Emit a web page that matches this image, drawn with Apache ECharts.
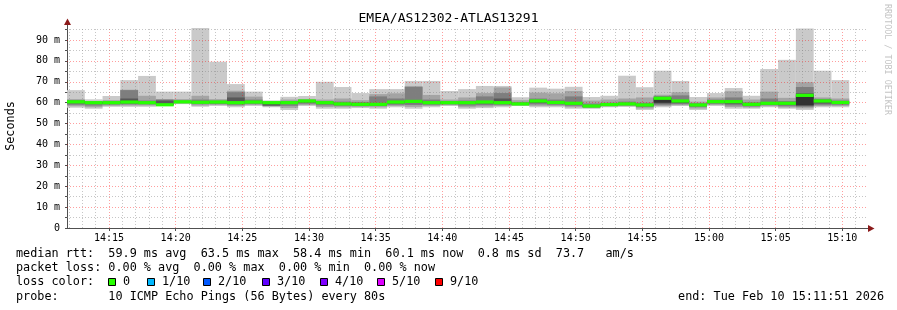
<!DOCTYPE html>
<html><head><meta charset="utf-8">
<script src="https://cdn.jsdelivr.net/npm/echarts@6/dist/echarts.min.js"></script>
<style>html,body{margin:0;padding:0;background:#fff}#c{width:897px;height:310px}</style>
</head><body><div id="c"></div>
<script>
// ---- data ----
const axisStart = '14:11:51';
const axisEnd = '15:11:51';
const stepSeconds = 80;
const stepStart = ['14:11:51','14:13:11','14:14:31','14:15:51','14:17:11','14:18:31','14:19:51','14:21:11','14:22:31','14:23:51','14:25:11','14:26:31','14:27:51','14:29:11','14:30:31','14:31:51','14:33:11','14:34:31','14:35:51','14:37:11','14:38:31','14:39:51','14:41:11','14:42:31','14:43:51','14:45:11','14:46:31','14:47:51','14:49:11','14:50:31','14:51:51','14:53:11','14:54:31','14:55:51','14:57:11','14:58:31','14:59:51','15:01:11','15:02:31','15:03:51','15:05:11','15:06:31','15:07:51','15:09:11'];
// sorted pings per step (ms), ping1 = fastest, ping10 = slowest
const ping1 = [57.6,57.1,58.0,58.0,58.0,58.4,59.3,58.0,58.4,57.8,58.4,57.8,56.5,58.4,57.1,57.1,57.4,57.1,57.8,57.1,57.8,58.4,57.1,57.4,57.8,58.4,57.8,57.8,57.1,57.1,57.8,58.0,56.5,57.8,58.4,56.5,58.4,57.1,57.1,57.8,57.1,56.5,57.8,57.8];
const ping2 = [58.3,57.8,58.5,58.6,58.6,58.6,59.6,58.6,58.9,58.4,58.9,58.2,57.5,58.9,57.9,57.8,57.9,57.8,58.4,58.0,58.4,58.8,57.8,58.1,58.4,58.6,58.5,58.4,57.8,57.4,58.2,58.3,57.2,58.4,58.8,57.2,58.9,57.9,57.7,58.3,57.7,57.3,58.4,58.4];
const ping3 = [59.0,58.6,59.1,59.2,59.2,58.8,59.9,59.3,59.4,59.0,59.4,58.5,58.5,59.5,58.7,58.5,58.4,58.4,59.0,58.9,59.0,59.2,58.6,58.8,59.0,58.9,59.2,59.0,58.5,57.7,58.5,58.7,57.9,59.0,59.3,57.9,59.4,58.7,58.2,58.8,58.3,58.0,59.0,59.0];
const ping4 = [59.7,59.4,59.5,59.7,59.6,58.9,60.1,59.8,59.8,59.6,59.9,58.6,59.4,60.1,59.4,58.9,58.8,58.8,59.6,59.8,59.5,59.6,59.4,59.6,59.5,59.1,59.9,59.6,59.1,58.0,58.8,59.0,58.5,59.6,59.8,58.4,59.9,59.5,58.6,59.2,58.9,58.5,59.6,59.5];
const ping5 = [60.1,59.7,59.8,60.0,59.8,59.0,60.3,60.0,60.1,59.8,60.1,59.6,59.8,60.5,59.8,59.2,59.0,59.0,60.0,60.3,59.8,59.8,59.8,60.0,59.8,59.3,60.4,59.9,59.4,58.2,59.0,59.2,58.7,60.0,60.3,58.7,60.2,60.0,58.9,59.5,59.4,58.8,60.3,59.8];
const ping6 = [60.4,60.0,60.0,60.3,60.0,59.0,60.4,60.2,60.3,60.0,60.3,60.0,60.0,60.8,60.0,59.4,59.2,59.2,60.3,60.6,60.0,60.0,60.0,60.3,60.0,59.4,60.8,60.1,59.7,58.4,59.1,59.4,58.9,62.1,60.8,58.9,60.5,60.5,59.2,59.7,59.7,63.5,60.8,60.1];
const ping7 = [60.8,60.3,60.3,62.0,60.4,61.0,60.7,60.5,60.6,62.5,60.6,60.3,60.3,61.0,60.3,59.8,59.6,59.8,60.8,61.0,60.4,60.3,60.3,60.8,62.0,59.7,61.2,60.4,60.2,58.8,59.4,59.8,59.3,62.5,61.2,59.2,60.8,61.0,59.5,60.2,60.1,64.5,61.2,60.5];
const ping8 = [61.2,60.5,60.7,66.0,61.0,61.5,61.0,61.5,61.0,65.0,61.5,60.5,60.8,61.3,60.8,60.5,60.3,63.0,62.0,67.5,61.5,60.8,61.0,63.0,64.6,60.3,62.0,61.5,63.0,59.6,60.0,60.5,60.0,63.2,63.5,59.8,61.5,62.5,60.2,62.0,60.8,67.5,61.8,61.0];
const ping9 = [61.7,60.8,61.2,66.2,63.3,61.7,61.7,63.3,61.7,65.7,62.9,60.7,61.5,61.8,61.5,62.0,61.2,64.1,64.5,68.0,63.7,61.5,62.5,64.6,67.3,61.2,64.8,64.5,65.6,61.0,61.5,62.0,62.5,63.8,65.0,60.5,62.5,65.5,61.5,65.3,62.3,69.8,62.5,62.0];
const ping10 = [66.0,61.6,63.2,70.8,72.8,65.3,65.3,95.7,79.6,68.9,65.3,61.1,62.8,63.2,70.0,67.5,64.6,66.5,66.5,70.4,70.4,65.6,66.5,68.0,68.0,62.6,67.2,66.7,67.6,62.7,63.3,72.9,67.4,75.3,70.4,62.7,64.6,67.0,63.3,76.1,80.5,95.5,75.3,70.8];
const medianRtt = [60.4,60.0,60.0,60.3,60.0,59.0,60.4,60.2,60.3,60.0,60.3,60.0,60.0,60.8,60.0,59.4,59.2,59.2,60.3,60.6,60.0,60.0,60.0,60.3,60.0,59.4,60.8,60.1,59.7,58.4,59.1,59.4,58.9,62.1,60.8,58.9,60.5,60.5,59.2,59.7,59.7,63.5,60.8,60.1];
const timeTicks = ['14:15','14:20','14:25','14:30','14:35','14:40','14:45','14:50','14:55','15:00','15:05','15:10'];
const yTicks = [0,10,20,30,40,50,60,70,80,90];
const yMax = 95.75;

const lossLabels = ['0','1/10','2/10','3/10','4/10','5/10','9/10'];
const lossColors = ['#26ff00','#00b8ff','#0059ff','#5e00ff','#7e00ff','#dd00ff','#ff0000'];

// ---- helpers ----
function toSec(s){const p=s.split(':').map(Number);return p[0]*3600+p[1]*60+(p[2]||0);}
function fmt(v){const h=Math.floor(v/3600),m=Math.floor((v%3600)/60);return h+':'+String(m).padStart(2,'0');}
const MONO = "'DejaVu Sans Mono', monospace";
const LEG = "11.8px 'DejaVu Sans Mono'";
const smokeColors = ['#cacaca','#a4a4a4','#7e7e7e','#585858','#323232'];
const bands = [[ping1,ping10],[ping2,ping9],[ping3,ping8],[ping4,ping7],[ping5,ping6]];

function bandSeries(lo, hi, color, z){
  return {type:'custom', z:z, silent:true, animation:false, clip:true,
    encode:{x:[0,1], y:[2,3]},
    data: stepStart.map((s,i)=>[toSec(s), toSec(s)+stepSeconds, lo[i], hi[i]]),
    renderItem:function(params, api){
      const a = api.coord([api.value(0), api.value(3)]);
      const b = api.coord([api.value(1), api.value(2)]);
      return {type:'rect', shape:{x:a[0], y:a[1], width:b[0]-a[0], height:b[1]-a[1]}, style:{fill:color}};
    }};
}

const series = bands.map((b,i)=>bandSeries(b[0], b[1], smokeColors[i], 2+i));
series.push({type:'custom', z:8, silent:true, animation:false, clip:true,
  encode:{x:[0,1], y:2},
  data: stepStart.map((s,i)=>[toSec(s), toSec(s)+stepSeconds, medianRtt[i]]),
  renderItem:function(params, api){
    const a = api.coord([api.value(0), api.value(2)]);
    const b = api.coord([api.value(1), api.value(2)]);
    return {type:'rect', shape:{x:a[0], y:a[1]-1.6, width:b[0]-a[0], height:3.2}, style:{fill:lossColors[0]}};
  }});

// grid lines (rrdtool style): minor every minute / 5 ms, major every 5 min / 10 ms
const gridMinor = 'rgba(128,128,128,0.45)';
const gridMajor = 'rgba(255,0,0,0.38)';
const gl = [];
const t0 = toSec(axisStart), t1 = toSec(axisEnd);
const majorSet = new Set(timeTicks.map(toSec));
for (let t = Math.ceil(t0/60)*60; t < t1; t += 60) {
  gl.push({xAxis:t, lineStyle:{color: majorSet.has(t)?gridMajor:gridMinor, type:[1,2], width:1}});
}
for (let v = 5; v < yMax; v += 5) {
  gl.push({yAxis:v, lineStyle:{color: (v%10===0)?gridMajor:gridMinor, type:[1,2], width:1}});
}
series.push({type:'line', data:[], z:20, silent:true, animation:false,
  markLine:{silent:true, animation:false, symbol:['none','none'], label:{show:false}, data:gl}});

// loss colour legend (boxes + labels)
const boxX = [108,147,203,262,320,377,435];
const legendGraphics = [];
lossColors.forEach((c,i)=>{
  legendGraphics.push({type:'rect', shape:{x:boxX[i]+0.5, y:278.5, width:7, height:7}, style:{fill:c, stroke:'#000', lineWidth:1}});
  legendGraphics.push({type:'text', x:boxX[i]+15, y:282, style:{text:lossLabels[i], font:LEG, fill:'#000', verticalAlign:'middle'}});
});

const chart = echarts.init(document.getElementById('c'), null, {renderer:'canvas'});

chart.setOption({
  animation:false,
  backgroundColor:'#ffffff',
  grid:{left:67, right:30, top:28, bottom:82, containLabel:false},
  xAxis:{type:'value', min:t0, max:t1,
    axisLine:{show:true, lineStyle:{color:'#505050', width:1}},
    axisTick:{show:true, customValues: timeTicks.map(toSec), length:3, lineStyle:{color:'#505050'}},
    axisLabel:{customValues: timeTicks.map(toSec), formatter:v=>fmt(v), fontFamily:MONO, fontSize:10, color:'#000', margin:5},
    splitLine:{show:false}},
  yAxis:{type:'value', min:0, max:yMax,
    axisLine:{show:true, lineStyle:{color:'#505050', width:1}},
    axisTick:{show:true, customValues:[0,5,10,15,20,25,30,35,40,45,50,55,60,65,70,75,80,85,90,95], length:2, lineStyle:{color:'#505050'}},
    axisLabel:{customValues: yTicks, formatter:v=>v===0?'0':v+' m', fontFamily:MONO, fontSize:10, color:'#000', margin:7},
    splitLine:{show:false}},
  series:series,
  graphic:[
    {type:'line', shape:{x1:67.5, y1:28, x2:67.5, y2:23}, style:{stroke:'#505050', lineWidth:1}},
    {type:'polygon', shape:{points:[[64,25],[71,25],[67.5,18.5]]}, style:{fill:'#8b1a1a'}},
    {type:'line', shape:{x1:867, y1:228.5, x2:870, y2:228.5}, style:{stroke:'#505050', lineWidth:1}},
    {type:'polygon', shape:{points:[[868,225],[868,232],[874.5,228.5]]}, style:{fill:'#8b1a1a'}},
    {type:'text', left:'center', top:12, style:{text:'EMEA/AS12302-ATLAS13291', font:"13px 'DejaVu Sans Mono'", fill:'#000'}},
    {type:'text', x:11, y:126, rotation:Math.PI/2, style:{text:'Seconds', font:LEG, fill:'#000', align:'center', verticalAlign:'middle'}},
    {type:'text', x:887, y:4, rotation:-Math.PI/2, style:{text:'RRDTOOL / TOBI OETIKER', font:"8.4px 'DejaVu Sans Mono'", fill:'#c4c4c4', align:'left', verticalAlign:'middle'}},
    {type:'text', x:16, y:254, style:{text:'median rtt:  59.9 ms avg  63.5 ms max  58.4 ms min  60.1 ms now  0.8 ms sd  73.7   am/s', font:LEG, fill:'#000', verticalAlign:'middle'}},
    {type:'text', x:16, y:268, style:{text:'packet loss: 0.00 % avg  0.00 % max  0.00 % min  0.00 % now', font:LEG, fill:'#000', verticalAlign:'middle'}},
    {type:'text', x:16, y:282, style:{text:'loss color:', font:LEG, fill:'#000', verticalAlign:'middle'}},
    ...legendGraphics,
    {type:'text', x:16, y:297, style:{text:'probe:       10 ICMP Echo Pings (56 Bytes) every 80s', font:LEG, fill:'#000', verticalAlign:'middle'}},
    {type:'text', x:884, y:297, style:{text:'end: Tue Feb 10 15:11:51 2026', font:LEG, fill:'#000', align:'right', verticalAlign:'middle'}}
  ]
});
</script></body></html>
